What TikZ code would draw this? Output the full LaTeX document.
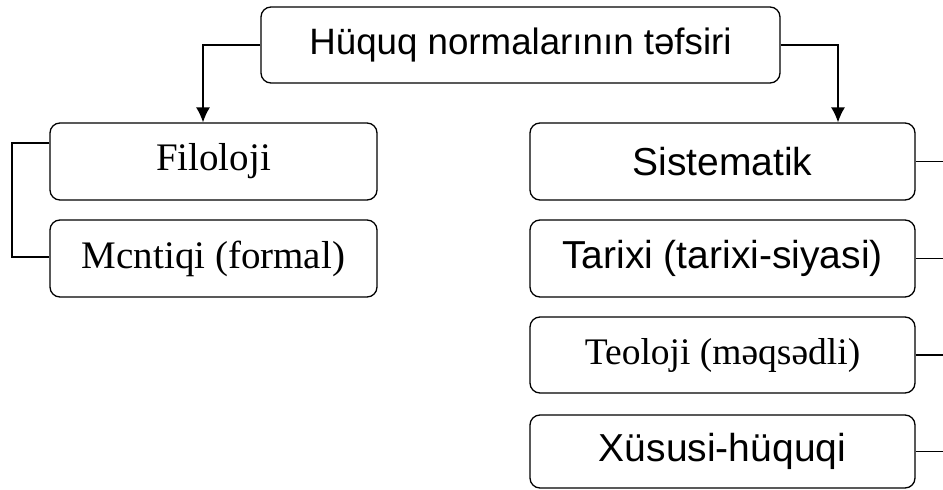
\documentclass[tikz,border=0pt]{standalone}
\usepackage{fontspec}
\setmainfont{Liberation Serif}
\newfontfamily\arialfont{Liberation Sans}
\usetikzlibrary{positioning}
\usetikzlibrary{calc}
\usetikzlibrary{arrows.meta}

\tikzset{
  box/.style={draw, rounded corners=10pt, line width=1.3pt, inner sep=0pt,
              minimum height=77pt},
  sansbox/.style={box, font=\arialfont\fontsize{39}{44}\selectfont},
  serifbox/.style={box, font=\fontsize{39}{44}\selectfont},
  link/.style={line width=1.3pt}
}

\begin{document}
\begin{tikzpicture}[x=1pt,y=1pt]
\useasboundingbox (0,0) rectangle (943,-490);

\node[sansbox, minimum width=519pt, minimum height=76pt, font=\arialfont\fontsize{36.7}{42}\selectfont](top) at (520.5,-45){Hüquq normalarının təfsiri};
\node[serifbox, minimum width=327pt](filo) at (213.5,-161.5){Filoloji};
\node[serifbox, minimum width=327pt](ment) at (213.5,-258.5){Mcntiqi (formal)};
\node[sansbox, minimum width=385pt](sist) at (722.5,-161.5){Sistematik};
\node[sansbox, minimum width=385pt](tarix) at (722.5,-258.5){Tarixi (tarixi-siyasi)};
\node[serifbox, minimum width=385pt, minimum height=76pt, font=\fontsize{37.5}{42}\selectfont](teol) at (722.5,-355){Teoloji (məqsədli)};
\node[sansbox, minimum width=385pt, minimum height=73pt](xusus) at (722.5,-451.5){Xüsusi-hüquqi};

\coordinate (lturn) at (203,-45);
\coordinate (rturn) at (838,-45);
\coordinate (lbrA) at (12,-143);
\coordinate (lbrB) at (12,-257);
\coordinate (redge) at (943,0);

% arrows from the title
\draw[link,-{Latex[length=15pt,width=14pt]}] (top.west) -- (lturn) -- (lturn |- filo.north);
\draw[link,-{Latex[length=15pt,width=14pt]}] (top.east) -- (rturn) -- (rturn |- sist.north);

% left bracket
\draw[link] (lbrA -| filo.west) -- (lbrA) -- (lbrB) -- (lbrB -| ment.west);

% right stubs
\path[link]
(sist.east) edge (sist.east -| redge)
(tarix.east) edge (tarix.east -| redge)
(teol.east) edge (teol.east -| redge)
(xusus.east) edge (xusus.east -| redge);
\end{tikzpicture}
\end{document}
